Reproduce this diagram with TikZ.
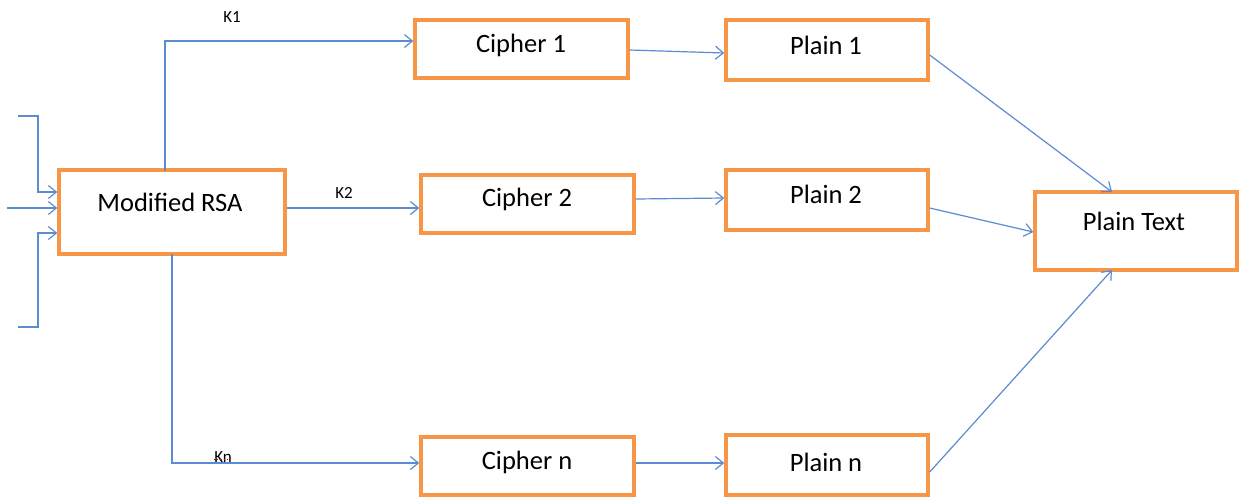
\documentclass[tikz,border=0pt]{standalone}
\usepackage{fontspec}
\setmainfont{Carlito}
\usetikzlibrary{arrows.meta}
\definecolor{boxorange}{HTML}{F79646}
\definecolor{wireblue}{HTML}{5B8BD0}
\tikzset{
  box/.style={draw=boxorange, line width=3.4pt, fill=white, rectangle, inner sep=0pt},
  txt/.style={font=\fontsize{26.5}{30}\selectfont, inner sep=0pt},
  keylbl/.style={font=\fontsize{17}{20}\selectfont, inner sep=0pt},
  wire/.style={draw=wireblue, line width=1.2pt},
  arr/.style={wire, -{Straight Barb[length=8pt, width=13pt, line width=1.2pt]}}
}
\begin{document}
\begin{tikzpicture}[x=1pt, y=-1pt]
\useasboundingbox (0,0) rectangle (1243,499);

% boxes (corners in px, y downward)
\node[box, minimum width=226pt, minimum height=84pt] (rsa) at (172,212) {};
\node[box, minimum width=213pt, minimum height=58pt] (c1) at (521.5,49) {};
\node[box, minimum width=202pt, minimum height=60pt] (p1) at (827,50) {};
\node[box, minimum width=213pt, minimum height=58pt] (c2) at (527.5,204) {};
\node[box, minimum width=202pt, minimum height=60pt] (p2) at (827,200) {};
\node[box, minimum width=202pt, minimum height=78pt] (pt) at (1136,231) {};
\node[box, minimum width=213pt, minimum height=58pt] (cn) at (527.5,466) {};
\node[box, minimum width=202pt, minimum height=60pt] (pn) at (827,465) {};

% box texts
\node[txt] (trsa) at (170,202) {Modified RSA};
\node[txt] (tc1) at (521,45) {Cipher 1};
\node[txt] (tp1) at (826,45) {Plain 1};
\node[txt] (tc2) at (527,199) {Cipher 2};
\node[txt] (tp2) at (826,194) {Plain 2};
\node[txt] (tpt) at (1134,221) {Plain Text};
\node[txt] (tcn) at (527,462) {Cipher n};
\node[txt] (tpn) at (826,462) {Plain n};

% key labels
\node[keylbl] (k1) at (232,17) {K1};
\node[keylbl] (k2) at (344,193) {K2};
\node[keylbl] (kn) at (223,457) {Kn};
\draw[red!80!black, line width=1.2pt, dotted] ([yshift=3pt]kn.south west) -- ([yshift=3pt]kn.south east);

% inputs into the RSA block
\coordinate (in1) at (18,116);
\coordinate (in2) at (7,208);
\coordinate (in3) at (18,327);
\draw[arr] (in1) -- (38,116) -- (38,192) -- (rsa.west |- 0,192);
\draw[arr] (in2) -- (rsa.west |- 0,208);
\draw[arr] (in3) -- (38,327) -- (38,233) -- (rsa.west |- 0,233);

% keys to ciphers
\draw[arr] (165,170.5) -- (165,41) -- (c1.west |- 0,41);
\draw[arr] (rsa.east |- 0,208) -- (c2.west |- 0,208);
\draw[arr] (172,253.5) -- (172,463) -- (cn.west |- 0,463);

% ciphers to plains
\draw[arr] (c1.east |- 0,50) -- (p1.west |- 0,53);
\draw[arr] (c2.east |- 0,199) -- (p2.west |- 0,198);
\draw[arr] (cn.east |- 0,463) -- (pn.west |- 0,463);

% plains to plain text
\draw[arr] (p1.east |- 0,55) -- (1112,192);
\draw[arr] (p2.east |- 0,208) -- (pt.west |- 0,232);
\draw[arr] (pn.east |- 0,472) -- (1112,270);
\end{tikzpicture}
\end{document}
